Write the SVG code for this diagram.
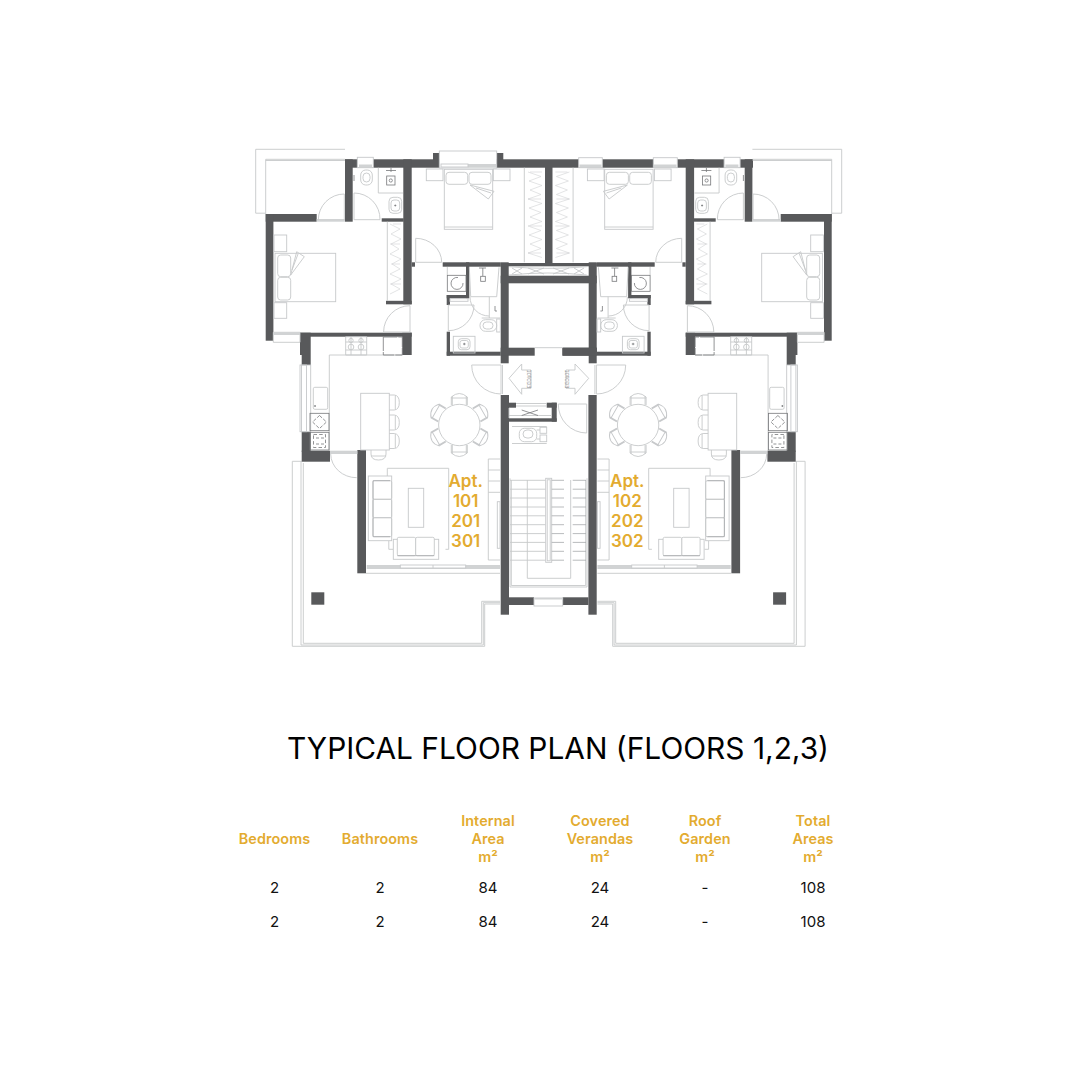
<svg xmlns="http://www.w3.org/2000/svg" width="1081" height="1080" viewBox="0 0 1081 1080">
<style>
.w{fill:#58595b;stroke:none}
.l{fill:none;stroke:#c6c8ca;stroke-width:.9}
.z{fill:none;stroke:#d0d2d3;stroke-width:.6}
.lw{fill:#fff;stroke:#c6c8ca;stroke-width:.9}
.b{fill:#d1d3d4;stroke:none}
.d{fill:none;stroke:#77787b;stroke-width:.8}
.t{fill:none;stroke:#a7a9ac;stroke-width:.8}
.tt{font-family:Inter,"Liberation Sans",sans-serif}
.apt{font-size:17px;font-weight:600;fill:#e3ab2f;text-anchor:middle}
.h{font-size:14.4px;font-weight:600;fill:#e3ab2f;text-anchor:middle;letter-spacing:.1px}
.v{font-size:15px;font-weight:400;fill:#111;text-anchor:middle}
.ar{font-family:"Liberation Sans",sans-serif;font-size:5px;fill:#8a8b8d;text-anchor:middle}
</style>
<defs>
<g id="chair"><path class="l" d="M-8-20V-28Q0-35 8-28V-20M-8-27H8M-7-20V-29M7-20V-29"/></g>
<g id="fchair"><path class="l" d="M0-7.500H5Q10-7 10 0T5 7.500H0M6-7V7"/></g>
</defs>
<rect width="1081" height="1080" fill="#fff"/>
<rect id="top-wall" class="w" x="345" y="159.300" width="408" height="8.400"/>
<g id="half">
<g id="outlines">
<path class="l" d="M345 149.300H255.700V213.200H265.700M265.700 159.300H345M265.700 160.500H345M265.700 159.300V214"/>
<path class="l" d="M292.300 461.300V646.300H484.700V604H500M292.300 461.300H301.700M301 461.300V645H483.300V602.700H500M303.300 463V643.300H481.700V601.300H500"/>
<rect class="w" x="311.300" y="592.300" width="13" height="12.400"/>
</g>
<g id="walls">
<rect class="w" x="345" y="159.300" width="7.700" height="62.400"/>
<rect class="w" x="265.700" y="214" width="51" height="7.700"/>
<rect class="w" x="265.700" y="214" width="7.700" height="126.700"/>
<rect class="w" x="403.300" y="159.300" width="8.400" height="145"/>
<rect class="w" x="386" y="300.800" width="25.700" height="3.500"/>
<rect class="w" x="381.700" y="218.300" width="22" height="3.400"/>
<rect class="w" x="411.700" y="262.300" width="3.300" height="4.400"/>
<rect class="w" x="442.700" y="262.300" width="58" height="4.400"/>
<rect class="w" x="446.700" y="295" width="3.300" height="10"/>
<rect class="w" x="446.700" y="295" width="21.600" height="3.300"/>
<rect class="w" x="466" y="262.300" width="3.300" height="36"/>
<rect class="w" x="446.700" y="331.700" width="3.300" height="24"/>
<rect class="w" x="446.700" y="351.700" width="54" height="4"/>
<rect class="w" x="300" y="332.700" width="111.700" height="4"/>
<rect class="w" x="300" y="332.700" width="10.700" height="22.300"/>
<rect class="w" x="301.700" y="355" width="9" height="10"/>
<rect class="w" x="402.300" y="332.700" width="9.400" height="22.300"/>
<rect class="w" x="301.700" y="431.700" width="9" height="20"/>
<rect class="w" x="301.700" y="450.700" width="28.300" height="11"/>
<rect class="w" x="357.300" y="450" width="8.700" height="123.300"/>
<rect class="w" x="500.700" y="262.300" width="8" height="101"/>
<rect class="w" x="500.700" y="395" width="8.300" height="219.700"/>
<rect class="w" x="500.700" y="347.700" width="34" height="8"/>
</g>
<g id="doors">
<rect class="b" x="316.700" y="219" width="28.300" height="2.700"/>
<path class="l" d="M318.300 220A26 26 0 0 1 344.300 194V220"/>
<path class="l" d="M354 193V219.700H380A26 26 0 0 0 354 193"/>
<path class="l" d="M415.700 238.300V262.300H441.700A26 24 0 0 0 415.700 238.300"/>
<path class="l" d="M410 305.700V332H383.600A26.400 26.300 0 0 1 410 305.700"/>
<path class="l" d="M471.700 365H501V394A29.300 29 0 0 1 471.700 365M502.500 365V394"/>
<rect class="b" x="330" y="450.700" width="27.300" height="3.300"/>
<path class="l" d="M330.700 454A26 24 0 0 0 356.700 477.700"/>
<path class="l" d="M448.300 305V330.700A25.700 25.700 0 0 0 474 305H448.300"/>
<path class="l" d="M470 297A19 19 0 0 0 489 316"/>
</g>
<g id="balcony-bath">
<rect class="lw" x="357.300" y="157.300" width="16" height="10.400"/>
<rect class="b" x="359" y="164.500" width="13" height="3"/>
<rect class="l" x="360.700" y="170" width="11.600" height="15" rx="5"/>
<rect class="l" x="363" y="173" width="7" height="9" rx="3.500"/>
<path class="d" d="M354 175V181"/>
<path class="l" d="M378.300 167.700V193H403"/>
<rect class="d" x="386.700" y="176" width="8.300" height="9"/>
<circle class="d" cx="390.800" cy="180.500" r="1.600"/>
<path class="d" d="M386 170.500H396M391 168V172"/>
<rect class="l" x="389" y="197.300" width="12.700" height="16" rx="4"/>
<rect class="l" x="391" y="200" width="8.700" height="11" rx="3"/>
<path class="d" d="M394.300 205.500H396.300M395.300 204.500V206.500"/>
<path class="lw" d="M273.300 332.300H300V342.300H273.300Z"/>
<rect class="b" x="273.300" y="332.300" width="26.700" height="2.700"/>
</g>
<g id="bedroom-side">
<rect class="l" x="275" y="253.300" width="60.700" height="48.400"/>
<rect class="l" x="277.700" y="255" width="13" height="21.700" rx="3"/>
<rect class="l" x="277.700" y="277.300" width="13" height="22.700" rx="3"/>
<rect class="l" x="274" y="235" width="12.700" height="16.700"/>
<rect class="l" x="274" y="302.700" width="12.700" height="15.600"/>
<path class="l" d="M290.700 275L296.700 251.700L304.300 256.700ZM292 270L298 254"/>
<path class="l" d="M387.300 221.700V301"/>
<polyline class="z" points="390,224 400,229 391,234 401,239 391,244 399,249 390,254 401,259 392,264 400,269 390,274 401,279 391,284 400,289 390,294"/>
<path class="z" d="M393 224H401M390 244H400M391 264H400M390 284H401"/>
</g>
<g id="bedroom-top">
<rect class="l" x="444.300" y="169.300" width="48.400" height="60"/>
<path class="l" d="M444.300 227H492.700"/>
<rect class="l" x="446" y="172.300" width="21.700" height="12" rx="3"/>
<rect class="l" x="469" y="172.300" width="22" height="12" rx="3"/>
<rect class="l" x="426.300" y="169" width="16.700" height="11.700"/>
<rect class="l" x="493.300" y="169" width="16.700" height="11.700"/>
<path class="l" d="M470 185L494 191.300L488.300 199ZM476 188L491 193"/>
<path class="l" d="M524.300 167.700V262.300"/>
<polyline class="z" points="528,172 541,176.500 529,181 542,185.500 530,190 541,194.500 528,199 542,203.500 529,208 541,212.500 530,217 542,221.500 528,226 541,230.500 529,235 542,239.500 530,244 541,248.500 528,253 542,257.500"/>
<path class="z" d="M530 172H542M528 199H541M530 226H542M528 253H541"/>
</g>
<g id="bath-core">
<rect class="d" x="447.300" y="275.300" width="18.700" height="16"/>
<path class="l" d="M447.300 267V275"/>
<path class="d" d="M458 277.500A6 6 0 1 0 463 283"/>
<path class="l" d="M469.300 267.300L470.700 296.700H496.700L499 267.300M489.300 296.700V318M481.700 318H500"/>
<rect class="l" x="480" y="319.700" width="16.700" height="11.600" rx="5.500"/>
<rect class="l" x="483" y="322" width="10" height="7" rx="3.500"/>
<rect class="l" x="496.700" y="319" width="3.600" height="13"/>
<rect class="d" x="480.700" y="276.300" width="4.600" height="5"/>
<path class="d" d="M479 268H486M482.800 268V276M495 306V311M495 311H497"/>
<rect class="l" x="450" y="298.700" width="18" height="2.600"/>
<rect class="l" x="453.300" y="336.300" width="21.700" height="16.700"/>
<rect class="l" x="458.300" y="338.700" width="11.700" height="11" rx="3"/>
<rect class="l" x="460" y="340.500" width="8.300" height="7.500" rx="2"/>
<path class="d" d="M463 344H465.600M464.300 342.800V345.200"/>
</g>
<g id="kitchen">
<path class="l" d="M329.300 355V450.700M329.300 355H402.300"/>
<rect class="lw" x="300" y="365" width="10.700" height="66.700"/>
<rect class="l" x="301.500" y="365" width="5" height="66.700"/>
<path class="l" d="M345.700 336.700H366.700V355H345.700ZM345.700 342H366.700M345.700 350H366.700M351 337V355M361 337V355"/>
<circle class="l" cx="351" cy="340.500" r="2.200"/><circle class="l" cx="361" cy="340.500" r="2.200"/><circle class="l" cx="351" cy="347" r="2.800"/><circle class="l" cx="361" cy="347" r="2.800"/>
<rect class="d" x="383.300" y="337" width="19" height="18" stroke-dasharray="14 1"/>
<rect class="l" x="313.300" y="387.300" width="14.400" height="22" rx="1.500"/>
<path class="d" d="M315 407V405M314.200 406H316"/>
<rect class="d" x="310" y="413.300" width="19" height="17.400"/>
<path class="d" d="M319.500 415.500L326.500 422L319.500 428.500L312.500 422Z" stroke-dasharray="3.500 1.500"/>
<rect class="d" x="310" y="432.300" width="19" height="17.700"/>
<rect class="d" x="313.500" y="434.500" width="12" height="13" stroke-dasharray="3.500 2.200" stroke-width="1.100"/>
<path class="d" d="M316 438H319M321 438H324M316 444H319M321 444H324"/>
<rect class="lw" x="360.700" y="393.300" width="28.600" height="56.700"/>
<use href="#fchair" x="389.300" y="402.500"/><use href="#fchair" x="389.300" y="422.500"/><use href="#fchair" x="389.300" y="441"/>
<path class="l" d="M371 450V454Q371 460 378.500 460T386 454V450M371 456H386"/>
</g>
<g id="dining">
<use href="#chair" transform="translate(459.300 425)"/>
<use href="#chair" transform="translate(459.300 425) rotate(60)"/>
<use href="#chair" transform="translate(459.300 425) rotate(120)"/>
<use href="#chair" transform="translate(459.300 425) rotate(180)"/>
<use href="#chair" transform="translate(459.300 425) rotate(240)"/>
<use href="#chair" transform="translate(459.300 425) rotate(300)"/>
<circle class="lw" cx="459.300" cy="425" r="20.700"/>
</g>
<g id="lounge">
<path class="l" d="M387.300 476V468.300H448.700V549.300H445.500M388.800 541V549.300H393"/>
<rect class="l" x="408.300" y="488.300" width="15.400" height="39"/>
<rect class="lw" x="368.300" y="476" width="23.400" height="64.700"/>
<rect class="l" x="373" y="480.700" width="18.700" height="18.600" rx="1.500"/>
<rect class="l" x="373" y="499.300" width="18.700" height="18.400" rx="1.500"/>
<rect class="l" x="373" y="517.700" width="18.700" height="19" rx="1.500"/>
<path class="t" d="M373 480.700V536.700M373 480.700H390M373 536.700H390"/>
<rect class="lw" x="393.300" y="539.300" width="45.400" height="20"/>
<rect class="lw" x="397.300" y="537.300" width="18.400" height="18.400" rx="1.500"/>
<rect class="lw" x="415.700" y="537.300" width="18.600" height="18.400" rx="1.500"/>
<path class="t" d="M397.300 555.700H434.300"/>
<path class="l" d="M488.300 459H500M488.300 459V560H500M488.300 470H500M488.300 481H500M488.300 492.300H500"/>
<rect class="l" x="497.300" y="501.700" width="2.700" height="46.600"/>
<rect class="b" x="366.700" y="565" width="133.300" height="4"/>
<rect class="lw" x="400.300" y="565" width="65.400" height="3"/>
<path class="l" d="M433 565V568M366 573.300H500"/>
</g>
</g>
<use href="#half" transform="matrix(-1 0 0 1 1097.400 0)"/>
<g id="core">
<rect class="w" x="433" y="153" width="6.500" height="7"/>
<rect class="w" x="496.700" y="153" width="6.600" height="7"/>
<rect class="w" x="545" y="167" width="7.500" height="96"/>
<rect class="w" x="500.700" y="263" width="96" height="3.300"/>
<rect class="w" x="500.700" y="275.700" width="96" height="7.600"/>
<rect class="w" x="562.300" y="347.700" width="34.400" height="8"/>
<path class="l" d="M534.700 347.700H562.300"/>
<path class="l" d="M509 266.700Q548 270 586.700 266.700M509 275Q548 271 586.700 275M512 268L522 274M522 268L512 274M528 268L544 274M544 268L528 274M553 268L569 274M569 268L553 274M574 268L584 274M584 268L574 274"/>
<rect class="lw" x="439.300" y="151" width="57.400" height="17"/>
<rect class="b" x="468" y="164" width="28" height="3.500"/>
<rect class="l" x="441" y="164" width="27" height="3"/>
<rect class="lw" x="578.700" y="157.700" width="23.600" height="10"/>
<rect class="b" x="579.500" y="164.500" width="22" height="3"/>
<rect class="lw" x="653.300" y="157.700" width="24" height="10"/>
<rect class="b" x="654" y="164.500" width="22.500" height="3"/>
<path class="l" d="M509 378.300L521.700 364V370H531V388.300H521.700V394.300Z"/>
<path class="l" d="M588.700 378.300L575 364V370H566V388.300H575V394.300Z"/>
<text class="ar" transform="translate(530.600 379) rotate(-90)" textLength="18" lengthAdjust="spacingAndGlyphs">ΕΙΣΟΔΟΣ</text>
<text class="ar" transform="translate(568.800 379) rotate(-90)" textLength="18" lengthAdjust="spacingAndGlyphs">ΕΙΣΟΔΟΣ</text>
<rect class="w" x="508.700" y="402.700" width="7.300" height="5"/>
<rect class="w" x="546.700" y="402.700" width="10" height="5"/>
<rect class="w" x="551.700" y="402.700" width="5" height="19"/>
<rect class="w" x="508.700" y="418.300" width="48" height="3.400"/>
<path class="l" d="M516 403.500H546.700M516 406H546.700M509 415.500H551M509 408V418"/>
<path class="d" d="M521.700 410L538 415.500M538 410L521.700 415.500"/>
<path class="l" d="M558.300 404H586.700V433A28.400 28.500 0 0 1 558.300 404"/>
<rect class="l" x="519.300" y="428.300" width="17.400" height="13.400" rx="5"/>
<rect class="l" x="523" y="430" width="10" height="8" rx="4"/>
<rect class="l" x="540" y="427.300" width="6.700" height="6"/>
<rect class="l" x="540" y="435" width="6.700" height="6.700"/>
<path class="l" d="M512 426.500H546.700M512 443.500H546.700M536.700 430H540M536.700 439H540"/>
<g id="stairs">
<path class="l" d="M510 478.300V587H587V478.300M511.300 480V585.500H585.700V480M527.300 480V578.300H570.700V480"/>
<path class="l" d="M510 480.300H545.700M510 489.200H545.700M510 498H545.700M510 507H545.700M510 515.800H545.700M510 524.700H545.700M510 533.600H545.700M510 542.400H545.700M510 551.300H545.700M510 560.200H545.700"/>
<rect class="lw" x="545.700" y="478.300" width="6" height="84"/>
<rect class="l" x="547.200" y="479.800" width="3" height="81"/>
<path class="t" d="M551.700 480.300H564M572.700 480.300H586M551.700 489.200H564M572.700 489.200H586M551.700 498H564M572.700 498H586M551.700 507H564M572.700 507H586M551.700 515.800H564M572.700 515.800H586M551.700 524.700H564M572.700 524.700H586M551.700 533.600H564M572.700 533.600H586M551.700 542.400H564M572.700 542.400H586M551.700 551.300H564M572.700 551.300H586M551.700 560.200H564M572.700 560.200H586"/>
<rect class="w" x="509" y="597.300" width="25" height="7.700"/>
<rect class="w" x="562.700" y="597.300" width="25.700" height="7.700"/>
<rect class="lw" x="534" y="598" width="28.700" height="8"/>
<rect class="b" x="534.500" y="598" width="27.700" height="1.500"/>
</g>
</g>
<g id="labels" class="tt">
<text class="apt tt" x="465.700" y="487.300">Apt.</text>
<text class="apt tt" x="465.700" y="507.300">101</text>
<text class="apt tt" x="465.700" y="527.300">201</text>
<text class="apt tt" x="465.700" y="547.300">301</text>
<text class="apt tt" x="627.300" y="487.300">Apt.</text>
<text class="apt tt" x="627.300" y="507.300">102</text>
<text class="apt tt" x="627.300" y="527.300">202</text>
<text class="apt tt" x="627.300" y="547.300">302</text>
<text class="tt" x="287" y="759" font-size="29.500" fill="#000" textLength="542" lengthAdjust="spacingAndGlyphs">TYPICAL FLOOR PLAN (FLOORS 1,2,3)</text>
<text class="h tt" x="274.500" y="844">Bedrooms</text>
<text class="h tt" x="380" y="844">Bathrooms</text>
<text class="h tt" x="488" y="825.500">Internal</text>
<text class="h tt" x="488" y="844">Area</text>
<text class="h tt" x="488" y="862">m²</text>
<text class="h tt" x="600" y="825.500">Covered</text>
<text class="h tt" x="600" y="844">Verandas</text>
<text class="h tt" x="600" y="862">m²</text>
<text class="h tt" x="705" y="825.500">Roof</text>
<text class="h tt" x="705" y="844">Garden</text>
<text class="h tt" x="705" y="862">m²</text>
<text class="h tt" x="813" y="825.500">Total</text>
<text class="h tt" x="813" y="844">Areas</text>
<text class="h tt" x="813" y="862">m²</text>
<text class="v tt" x="274.500" y="893">2</text>
<text class="v tt" x="380" y="893">2</text>
<text class="v tt" x="488" y="893">84</text>
<text class="v tt" x="600" y="893">24</text>
<text class="v tt" x="705" y="893">-</text>
<text class="v tt" x="813" y="893">108</text>
<text class="v tt" x="274.500" y="927">2</text>
<text class="v tt" x="380" y="927">2</text>
<text class="v tt" x="488" y="927">84</text>
<text class="v tt" x="600" y="927">24</text>
<text class="v tt" x="705" y="927">-</text>
<text class="v tt" x="813" y="927">108</text>
</g>
</svg>
